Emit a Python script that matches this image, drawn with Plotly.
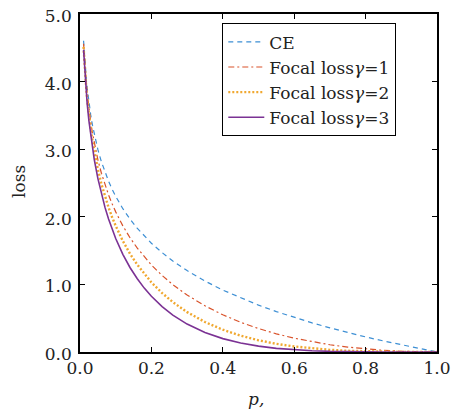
import plotly.graph_objects as go

p_vals = [0.01, 0.0125, 0.015, 0.0175, 0.02, 0.025, 0.03, 0.035, 0.04, 0.05, 0.06, 0.07,
          0.08, 0.09, 0.10, 0.12, 0.14, 0.16, 0.18, 0.20, 0.23, 0.26, 0.30, 0.35, 0.40,
          0.45, 0.50, 0.55, 0.60, 0.65, 0.70, 0.75, 0.80, 0.85, 0.90, 0.95, 1.00]
ce = [4.605, 4.382, 4.200, 4.046, 3.912, 3.689, 3.507, 3.352, 3.219, 2.996, 2.813, 2.659,
      2.526, 2.408, 2.303, 2.120, 1.966, 1.833, 1.715, 1.609, 1.470, 1.347, 1.204, 1.050, 0.916,
      0.799, 0.693, 0.598, 0.511, 0.431, 0.357, 0.288, 0.223, 0.163, 0.105, 0.051, 0.0]
focal_g1 = [4.559, 4.327, 4.137, 3.975, 3.834, 3.597, 3.402, 3.235, 3.090, 2.846, 2.644, 2.473,
            2.324, 2.191, 2.073, 1.866, 1.691, 1.540, 1.406, 1.287, 1.132, 0.997, 0.843, 0.683, 0.550,
            0.439, 0.347, 0.269, 0.204, 0.151, 0.107, 0.072, 0.045, 0.024, 0.0105, 0.0026, 0.0]
focal_g2 = [4.513, 4.273, 4.075, 3.905, 3.757, 3.507, 3.300, 3.122, 2.966, 2.704, 2.485, 2.300,
            2.138, 1.994, 1.866, 1.642, 1.454, 1.294, 1.153, 1.030, 0.872, 0.738, 0.590, 0.444, 0.330,
            0.241, 0.173, 0.121, 0.082, 0.053, 0.032, 0.018, 0.0089, 0.0036, 0.0011, 0.0001, 0.0]
focal_g3 = [4.468, 4.220, 4.014, 3.837, 3.682, 3.419, 3.201, 3.013, 2.847, 2.569, 2.336, 2.139,
            1.967, 1.815, 1.679, 1.445, 1.250, 1.087, 0.945, 0.824, 0.671, 0.546, 0.413, 0.289, 0.198,
            0.133, 0.087, 0.054, 0.033, 0.019, 0.0096, 0.0045, 0.0018, 0.0005, 0.0001, 0.0, 0.0]

x_ticks = [0.0, 0.2, 0.4, 0.6, 0.8, 1.0]
y_ticks = [0.0, 1.0, 2.0, 3.0, 4.0, 5.0]

names = ["CE", "Focal loss<i>γ</i>=1", "Focal loss<i>γ</i>=2", "Focal loss<i>γ</i>=3"]
series = [ce, focal_g1, focal_g2, focal_g3]
colors = ["#3D8FD4", "#D9532B", "#F0A830", "#7B3294"]
dashes = ["5px,4px", "6px,3px,2px,3px", "2px,2px", "solid"]
widths = [1.2, 1.2, 2.4, 1.6]

FONT_FAMILY = "'DejaVu Serif', 'Liberation Serif', serif"
font = dict(family=FONT_FAMILY, size=17, color="#222")

fig = go.Figure()
for name, ys, c, d, w in zip(names, series, colors, dashes, widths):
    fig.add_trace(go.Scatter(x=p_vals, y=ys, mode="lines", name=name,
                             line=dict(color=c, dash=d, width=w)))

axis_common = dict(showline=True, linecolor="black", linewidth=1.5, mirror="ticks",
                   ticks="inside", ticklen=5, tickwidth=1, tickcolor="black", showgrid=False,
                   zeroline=False, tickformat=".1f", tickfont=font, automargin=False,
                   ticklabeloverflow="allow")
# the page body has an 8px margin, so the figure is sized to fit the 459x411 window
fig.update_layout(
    width=451, height=403,
    margin=dict(l=72, r=22, t=6, b=59),
    plot_bgcolor="white", paper_bgcolor="white",
    font=font,
    xaxis=dict(range=[0, 1], tickvals=x_ticks, **axis_common),
    yaxis=dict(range=[0, 5], tickvals=y_ticks, ticklabelshift=2, ticklabelstandoff=3,
               **axis_common),
    legend=dict(x=0.398, y=0.973, xanchor="left", yanchor="top",
                bgcolor="white", bordercolor="black", borderwidth=1.2,
                font=font, tracegroupgap=0, itemwidth=36),
    showlegend=True,
    annotations=[
        dict(text="<i>p,</i>", xref="paper", yref="paper", x=0.493, y=-0.139,
             xanchor="center", yanchor="middle", showarrow=False, font=font),
        dict(text="loss", xref="paper", yref="paper", x=-0.171, y=0.506,
             xanchor="center", yanchor="middle", showarrow=False, textangle=-90, font=font),
    ],
)
fig.write_html("out.html")
